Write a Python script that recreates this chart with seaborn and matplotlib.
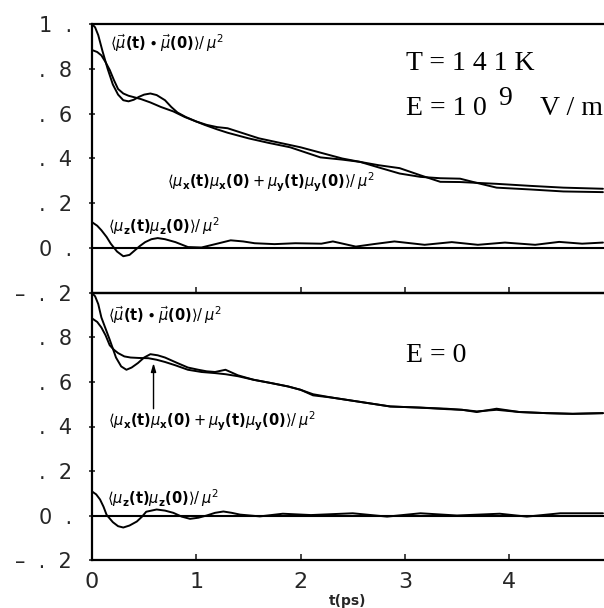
import numpy as np
import pandas as pd
import matplotlib
matplotlib.use("Agg")
import matplotlib.pyplot as plt
import seaborn as sns

# ---------------- data ----------------
# Top panel: E = 1e9 V/m
t_top_tot = [0, 0.03, 0.06, 0.1, 0.15, 0.2, 0.25, 0.3, 0.35, 0.4, 0.45, 0.5, 0.56, 0.62, 0.7, 0.76,
             0.82, 0.9, 1.0, 1.1, 1.2, 1.3, 1.4, 1.5, 1.6, 1.7, 1.8, 1.9, 2.0, 2.2, 2.4, 2.57,
             2.75, 2.95, 3.15, 3.34, 3.53, 3.7, 3.88, 4.2, 4.52, 4.9]
v_top_tot = [1.0, 0.985, 0.95, 0.88, 0.80, 0.73, 0.685, 0.66, 0.655, 0.662, 0.675, 0.685, 0.69,
             0.683, 0.66, 0.63, 0.605, 0.585, 0.565, 0.55, 0.54, 0.535, 0.52, 0.505, 0.49, 0.48,
             0.47, 0.46, 0.45, 0.425, 0.40, 0.385, 0.36, 0.333, 0.318, 0.312, 0.31, 0.29, 0.27,
             0.262, 0.253, 0.25]

t_top_xy = [0, 0.05, 0.09, 0.13, 0.17, 0.21, 0.25, 0.3, 0.35, 0.47, 0.56, 0.66, 0.78, 0.89, 1.0,
            1.08, 1.2, 1.3, 1.5, 1.69, 1.9, 2.19, 2.4, 2.57, 2.75, 2.95, 3.15, 3.34, 3.53, 3.88,
            4.2, 4.52, 4.9]
v_top_xy = [0.884, 0.875, 0.86, 0.83, 0.795, 0.75, 0.71, 0.69, 0.68, 0.665, 0.65, 0.63, 0.61,
            0.585, 0.565, 0.55, 0.53, 0.515, 0.49, 0.47, 0.45, 0.405, 0.395, 0.385, 0.37, 0.357,
            0.325, 0.296, 0.295, 0.287, 0.278, 0.27, 0.265]

t_top_z = [0, 0.05, 0.09, 0.14, 0.18, 0.24, 0.30, 0.36, 0.41, 0.46, 0.51, 0.57, 0.63, 0.70, 0.80,
           0.92, 1.05, 1.2, 1.33, 1.45, 1.56, 1.75, 1.95, 2.2, 2.31, 2.53, 2.7, 2.9, 3.19, 3.45,
           3.7, 3.96, 4.25, 4.48, 4.7, 4.9]
v_top_z = [0.116, 0.10, 0.08, 0.05, 0.02, -0.015, -0.036, -0.03, -0.01, 0.01, 0.027, 0.04, 0.045,
           0.04, 0.027, 0.005, 0.003, 0.02, 0.035, 0.03, 0.022, 0.018, 0.022, 0.02, 0.03, 0.007,
           0.018, 0.03, 0.015, 0.027, 0.015, 0.025, 0.015, 0.028, 0.02, 0.025]

# Bottom panel: E = 0
t_bot_tot = [0, 0.03, 0.06, 0.09, 0.13, 0.17, 0.23, 0.28, 0.33, 0.38, 0.44, 0.5, 0.56, 0.63, 0.70,
             0.82, 0.92, 1.02, 1.1, 1.18, 1.28, 1.4, 1.55, 1.72, 1.88, 2.0, 2.12, 2.3, 2.44,
             2.65, 2.86, 3.14, 3.4, 3.55, 3.69, 3.88, 4.1, 4.36, 4.61, 4.9]
v_bot_tot = [1.0, 0.985, 0.95, 0.89, 0.84, 0.79, 0.71, 0.67, 0.655, 0.665, 0.685, 0.71, 0.725,
             0.72, 0.71, 0.685, 0.665, 0.655, 0.648, 0.645, 0.655, 0.63, 0.61, 0.595, 0.58,
             0.565, 0.54, 0.53, 0.52, 0.505, 0.49, 0.485, 0.48, 0.475, 0.465, 0.48, 0.465,
             0.46, 0.457, 0.46]

t_bot_xy = [0, 0.05, 0.09, 0.13, 0.17, 0.21, 0.25, 0.31, 0.37, 0.45, 0.54, 0.62, 0.70, 0.8,
            0.92, 1.05, 1.18, 1.28, 1.4, 1.55, 1.72, 1.88, 2.0, 2.12, 2.3, 2.44, 2.65, 2.86,
            3.14, 3.4, 3.55, 3.69, 3.88, 4.1, 4.36, 4.61, 4.9]
v_bot_xy = [0.886, 0.87, 0.845, 0.81, 0.765, 0.745, 0.73, 0.715, 0.71, 0.708, 0.707, 0.70, 0.69,
            0.675, 0.655, 0.645, 0.64, 0.635, 0.626, 0.61, 0.595, 0.58, 0.565, 0.545, 0.53,
            0.52, 0.505, 0.49, 0.485, 0.478, 0.475, 0.468, 0.475, 0.465, 0.46, 0.457, 0.46]

t_bot_z = [0, 0.04, 0.077, 0.11, 0.14, 0.2, 0.25, 0.30, 0.36, 0.43, 0.48, 0.52, 0.62, 0.70, 0.78,
           0.86, 0.94, 1.02, 1.10, 1.18, 1.26, 1.34, 1.42, 1.61, 1.83, 2.1, 2.5, 2.83, 3.15,
           3.5, 3.91, 4.17, 4.49, 4.9]
v_bot_z = [0.108, 0.095, 0.072, 0.04, 0.003, -0.03, -0.048, -0.054, -0.045, -0.027, -0.005,
           0.017, 0.027, 0.022, 0.012, -0.005, -0.015, -0.01, 0.0, 0.012, 0.018, 0.012, 0.004,
           -0.004, 0.008, 0.002, 0.01, -0.005, 0.01, 0.0, 0.008, -0.005, 0.01, 0.01]

# ticks
x_ticks = [0, 1, 2, 3, 4]
x_tick_labels = ["0", "1", "2", "3", "4"]
y_ticks_top = [1.0, 0.8, 0.6, 0.4, 0.2, 0.0, -0.2]
y_labels_top = ["1  .", ".  8", ".  6", ".  4", ".  2", "0  .", "\u2013  .  2"]
y_ticks_bot = [0.8, 0.6, 0.4, 0.2, 0.0, -0.2]
y_labels_bot = [".  8", ".  6", ".  4", ".  2", "0  .", "\u2013  .  2"]

lab_tot = r"$\langle\vec{\mu}\mathbf{(t)}\bullet\vec{\mu}\mathbf{(0)}\rangle/\,\mu^2$"
lab_xy = (r"$\langle\mu_\mathbf{x}\mathbf{(t)}\mu_\mathbf{x}\mathbf{(0)}+"
          r"\mu_\mathbf{y}\mathbf{(t)}\mu_\mathbf{y}\mathbf{(0)}\rangle/\,\mu^2$")
lab_z = r"$\langle\mu_\mathbf{z}\mathbf{(t)}\mu_\mathbf{z}\mathbf{(0)}\rangle/\,\mu^2$"

# ---------------- style ----------------
sns.set_style("white")
plt.rcParams["font.family"] = ["DejaVu Sans"]
plt.rcParams["mathtext.fontset"] = "dejavusans"

W, H = 604, 608
fig = plt.figure(figsize=(W / 100, H / 100), dpi=100)
left = 92 / W
ax1 = fig.add_axes([left, 1 - 293 / H, 1 - left, (293 - 24) / H])
ax2 = fig.add_axes([left, 1 - 560 / H, 1 - left, (560 - 293) / H])

lw = 1.4
for ax, sets in [(ax1, [(t_top_tot, v_top_tot), (t_top_xy, v_top_xy), (t_top_z, v_top_z)]),
                 (ax2, [(t_bot_tot, v_bot_tot), (t_bot_xy, v_bot_xy), (t_bot_z, v_bot_z)])]:
    for tt, vv in sets:
        df = pd.DataFrame({"t": tt, "v": vv})
        sns.lineplot(data=df, x="t", y="v", ax=ax, color="black", lw=lw,
                     estimator=None, sort=False)
    ax.axhline(0, color="black", lw=1.5)
    ax.set_xlim(0, 4.91)
    ax.set_ylim(-0.2, 1.0)
    ax.set_xlabel("")
    ax.set_ylabel("")
    for s in ["left", "top", "bottom"]:
        ax.spines[s].set_visible(True)
        ax.spines[s].set_color("black")
        ax.spines[s].set_linewidth(1.6)
    ax.spines["right"].set_visible(False)
    ax.tick_params(axis="y", direction="inout", length=5, width=1.2, pad=12,
                   labelsize=15, left=True)
    ax.tick_params(axis="x", direction="in", length=4, width=1.2, pad=9,
                   labelsize=16, bottom=True)
    ax.set_xticks(x_ticks)
    ax.patch.set_alpha(0)

ax1.set_yticks(y_ticks_top, labels=y_labels_top)
ax2.set_yticks(y_ticks_bot, labels=y_labels_bot)
ax1.set_xticks(x_ticks, labels=[""] * len(x_ticks))
ax2.set_xticks(x_ticks, labels=x_tick_labels)
ax2.set_xlabel("t(ps)", fontsize=10, fontweight="bold", labelpad=1)

# curve labels
kw = dict(fontsize=10.5, va="center", ha="left", color="black")
ax1.text(0.17, 0.915, lab_tot, **kw)
ax1.text(0.72, 0.295, lab_xy, **kw)
ax1.text(0.15, 0.10, lab_z, **kw)
ax2.text(0.15, 0.90, lab_tot, **kw)
ax2.text(0.15, 0.425, lab_xy, **kw)
ax2.text(0.14, 0.08, lab_z, **kw)

ax2.annotate("", xy=(0.59, 0.685), xytext=(0.59, 0.48),
             arrowprops=dict(arrowstyle="-|>,head_length=0.5,head_width=0.15",
                             lw=1.0, color="black", shrinkA=0, shrinkB=0))

# annotations
serif = dict(family=["Liberation Serif", "DejaVu Serif"], fontsize=20, color="black",
             ha="left", va="baseline")
ax1.text(3.01, 0.795, "T = 1 4 1 K", **serif)
ax1.text(3.01, 0.594, "E = 1", **serif)
ax1.text(3.65, 0.594, "0", **serif)
ax1.text(3.89, 0.64, "9", **serif)
ax1.text(4.30, 0.594, "V / m", clip_on=False, **serif)
ax2.text(3.01, 0.689, "E = 0", **serif)

fig.savefig("out.png", dpi=100)
